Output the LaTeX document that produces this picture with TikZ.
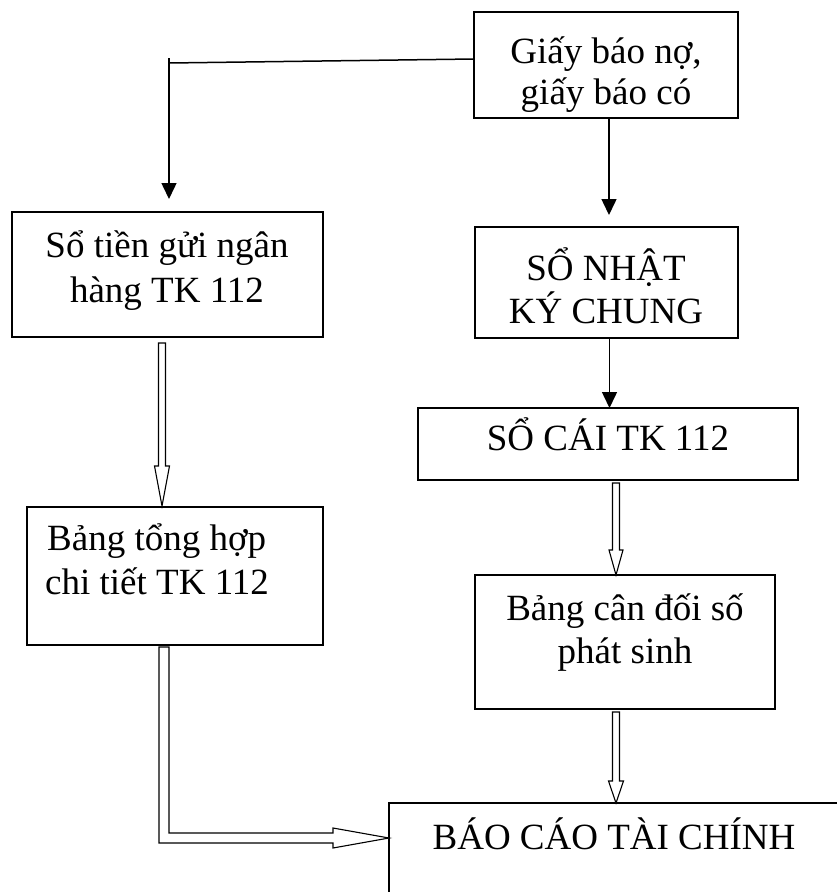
\documentclass[tikz,border=0pt]{standalone}
\usepackage{fontspec}
\setmainfont{Liberation Serif}
\usetikzlibrary{arrows.meta,calc}
\newcommand\hollowdown[5]{%
  \draw[hollow] let \p1=(#1), \p2=(#2) in
    (\x1-#3,\y1) -- (\x1-#3,\y2+#5) -- (\x1-#4,\y2+#5) -- (\x1,\y2)
    -- (\x1+#4,\y2+#5) -- (\x1+#3,\y2+#5) -- (\x1+#3,\y1) -- cycle;}
\begin{document}
\begin{tikzpicture}[x=1pt,y=-1pt,
  box/.style={draw, line width=1.1pt, inner sep=0pt, outer sep=0pt, anchor=north west},
  txt/.style={font=\fontsize{37}{43}\selectfont, inner sep=0pt, anchor=base},
  thinarrow/.style={line width=1.5pt, -{Triangle[length=16pt,width=15pt]}},
  hollow/.style={draw, line width=1.1pt, fill=white, line join=miter}]
\useasboundingbox (0,0) rectangle (837,892);
\clip (0,0) rectangle (837,892);

% boxes
\node[box, minimum width=264pt, minimum height=106pt] (b1) at (474,12) {};
\node[box, minimum width=311pt, minimum height=125pt] (b2) at (12,212) {};
\node[box, minimum width=263pt, minimum height=111pt] (b3) at (475,227) {};
\node[box, minimum width=380pt, minimum height=72pt] (b4) at (418,408) {};
\node[box, minimum width=296pt, minimum height=138pt] (b5) at (27,507) {};
\node[box, minimum width=300pt, minimum height=134pt] (b6) at (475,575) {};
\node[box, minimum width=460pt, minimum height=130pt] (b7) at (389,803) {};

% texts
\node[txt] (t1a) at (606,63) {Giấy báo nợ,};
\node[txt] (t1b) at (606,104) {giấy báo có};
\node[txt] (t2a) at (167,257) {Sổ tiền gửi ngân};
\node[txt] (t2b) at (167,302) {hàng TK 112};
\node[txt] (t3a) at (606,280) {SỔ NHẬT};
\node[txt] (t3b) at (606,323) {KÝ CHUNG};
\node[txt] (t4) at (608,450) {SỔ CÁI TK 112};
\node[txt, anchor=base west] (t5a) at (47,550) {Bảng tổng hợp};
\node[txt, anchor=base west] (t5b) at (45,594) {chi tiết TK 112};
\node[txt] (t6a) at (625,620) {Bảng cân đối số};
\node[txt] (t6b) at (625,663) {phát sinh};
\node[txt] (t7) at (614,849) {BÁO CÁO TÀI CHÍNH};

% thin arrows
\coordinate (c1) at (169,63);
\draw[line width=1.5pt] ([yshift=6pt]b1.west) -- (c1);
\draw[thinarrow] ([yshift=5pt]c1) -- ([yshift=13pt]c1 |- b2.north);
\draw[thinarrow] ([xshift=3pt]b1.south) -- ([xshift=3pt,yshift=12pt]b1.south |- b3.north);
\draw[thinarrow] ([xshift=3pt]b3.south) -- ([xshift=3pt]b3.south |- b4.north);

% hollow arrows
\coordinate (h1s) at (162,343);
\coordinate (h1e) at (162,506);
\hollowdown{h1s}{h1e}{3.5pt}{7.5pt}{40pt}
\coordinate (h2s) at (616,483);
\coordinate (h2e) at (616,575);
\hollowdown{h2s}{h2e}{3.5pt}{7pt}{25pt}
\coordinate (h3s) at (616,712);
\coordinate (h3e) at (616,803);
\hollowdown{h3s}{h3e}{3.5pt}{7.5pt}{22pt}

% L-shaped hollow arrow
\coordinate (l1) at (164,647);
\coordinate (l2) at (389,838);
\draw[hollow] let \p1=(l1), \p2=(l2) in
  (\x1-5pt,\y1) -- (\x1-5pt,\y2-5pt) -- (\x2-56pt,\y2-5pt) -- (\x2-56pt,\y2-10pt)
  -- (\x2,\y2) -- (\x2-56pt,\y2+10pt) -- (\x2-56pt,\y2+5pt) -- (\x1+5pt,\y2+5pt)
  -- (\x1+5pt,\y1) -- cycle;
\end{tikzpicture}
\end{document}
